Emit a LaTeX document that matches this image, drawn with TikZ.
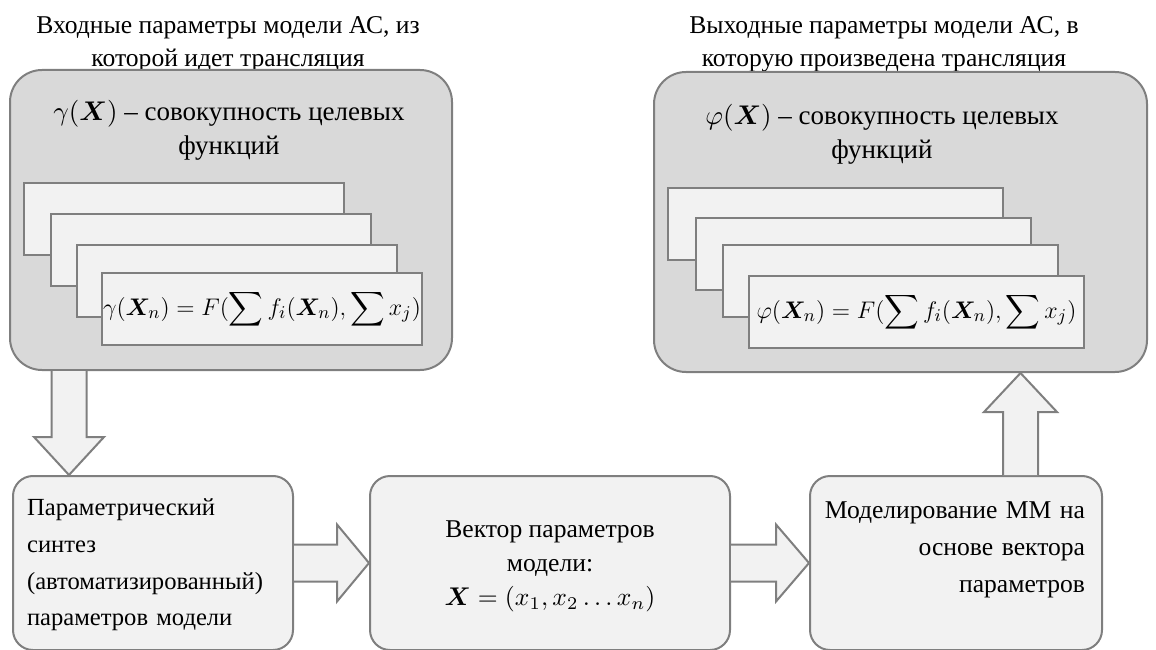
\documentclass[tikz,border=0pt]{standalone}
\usepackage{fontspec}
\setmainfont{DejaVu Serif}
\newfontfamily\rusfont{Liberation Serif}
\usepackage{amsmath}
\usepackage{bm}
\usetikzlibrary{calc}

\definecolor{edgegray}{HTML}{7F7F7F}
\definecolor{panelgray}{HTML}{D9D9D9}
\definecolor{cardgray}{HTML}{F2F2F2}

\tikzset{
    panel/.style={draw=edgegray, fill=panelgray, line width=1pt,
        rounded corners=16pt, minimum width=#1, minimum height=150pt},
    card/.style={draw=edgegray, fill=cardgray, line width=1pt,
        minimum width=#1, minimum height=36pt, inner sep=0pt,
        font=\fontsize{13}{16}\selectfont},
    stagebox/.style={draw=edgegray, fill=cardgray, line width=1pt,
        rounded corners=10pt, minimum height=87pt, inner sep=0pt},
    bigtext/.style={font=\rusfont, inner sep=0pt, scale=#1, transform shape},
    blockarrow/.style={draw=edgegray, fill=cardgray, line width=1pt}
}

\begin{document}
\begin{tikzpicture}[x=0.5pt, y=0.5pt]

\useasboundingbox (0,0) rectangle (1156,649);

% Captions above the two panels
\coordinate (incapc) at (228,605);
\coordinate (outcapc) at (884,605);
\node[bigtext=1.28, align=center] (incap) at (incapc)
    {Входные параметры модели АС, из\\[0.9pt]которой идет трансляция};
\node[bigtext=1.28, align=center] (outcap) at (outcapc)
    {Выходные параметры модели АС, в\\[0.9pt]которую произведена трансляция};

% Input panel
\node[panel=221pt] (inbox) at (231,429) {};
\coordinate (intitlec) at (229,519);
\node[bigtext=1.35, align=center] (intitle) at (intitlec)
    {$\gamma(\bm{X})$ – совокупность целевых\\[0.6pt]функций};

% Stack of input cards
\node[card=160pt] (incard1) at (184,430) {};
\node[card=160pt] (incard2) at (211,399) {};
\node[card=160pt] (incard3) at (237,368) {};
\node[card=160pt] (incard4) at (262,340)
    {$\gamma(\bm{X}_n) = F(\displaystyle\sum f_i(\bm{X}_n), \sum x_j)$};

% Output panel
\node[panel=246.5pt] (outbox) at (900.5,427) {};
\coordinate (outtitlec) at (882,514.5);
\node[bigtext=1.35, align=center] (outtitle) at (outtitlec)
    {$\varphi(\bm{X})$ – совокупность целевых\\[0.6pt]функций};

% Stack of output cards
\node[card=167.5pt] (outcard1) at (835.5,425) {};
\node[card=167.5pt] (outcard2) at (863.5,395) {};
\node[card=167.5pt] (outcard3) at (890.5,368) {};
\node[card=167.5pt] (outcard4) at (916.5,337)
    {$\varphi(\bm{X}_n) = F(\displaystyle\sum f_i(\bm{X}_n), \sum x_j)$};

% Three stages at the bottom
\node[stagebox,
    minimum width=140pt] (synth) at (153,86) {};
\coordinate (synthc) at (155,84);
\node[bigtext=1.23,
    text width=104pt,
    align=left] (synthtext) at (synthc)
    {Параметрический\\[2.9pt]синтез\\[2.9pt](автоматизированный)\\[2.9pt]параметров модели};

\node[stagebox,
    minimum width=180pt] (vector) at (550,86) {};
\coordinate (vectorc) at (550,82.5);
\node[bigtext=1.28,
    align=center] (vectortext) at (vectorc)
    {Вектор параметров\\[1.3pt]модели:\\[1.3pt]$\bm{X} = (x_1,x_2 \ldots x_n)$};

\node[stagebox,
    minimum width=146pt] (model) at (956,86) {};
\coordinate (modelc) at (950,99);
\node[bigtext=1.28,
    text width=105.5pt,
    align=right] (modeltext) at (modelc)
    {Моделирование ММ на\\[2.45pt]основе вектора\\[2.45pt]параметров};

% Arrow from input panel down to synthesis
\coordinate (dtip) at ($(synth.north west)+(57,0)$);
\coordinate (dtop) at (dtip |- inbox.south);
\draw[blockarrow] ($(dtop)+(-17.5,0)$) -- ($(dtip)+(-17.5,38)$)
    -- ($(dtip)+(-35,38)$) -- (dtip) -- ($(dtip)+(35,38)$)
    -- ($(dtip)+(17.5,38)$) -- ($(dtop)+(17.5,0)$);

% Arrows along the bottom row
\draw[blockarrow] ($(synth.east)+(0,18.5)$) -- ($(vector.west)+(-32,18.5)$)
    -- ($(vector.west)+(-32,38.5)$) -- (vector.west)
    -- ($(vector.west)+(-32,-38.5)$) -- ($(vector.west)+(-32,-18.5)$)
    -- ($(synth.east)+(0,-18.5)$);
\draw[blockarrow] ($(vector.east)+(0,18.5)$) -- ($(model.west)+(-33,18.5)$)
    -- ($(model.west)+(-33,38.5)$) -- (model.west)
    -- ($(model.west)+(-33,-38.5)$) -- ($(model.west)+(-33,-18.5)$)
    -- ($(vector.east)+(0,-18.5)$);

% Arrow from modelling up to output panel
\coordinate (utail) at ($(model.north west)+(211.5,0)$);
\coordinate (utip) at (utail |- outbox.south);
\draw[blockarrow] ($(utail)+(-17.5,0)$) -- ($(utip)+(-17.5,-39)$)
    -- ($(utip)+(-36.5,-39)$) -- (utip) -- ($(utip)+(36.5,-39)$)
    -- ($(utip)+(17.5,-39)$) -- ($(utail)+(17.5,0)$);

\end{tikzpicture}
\end{document}
